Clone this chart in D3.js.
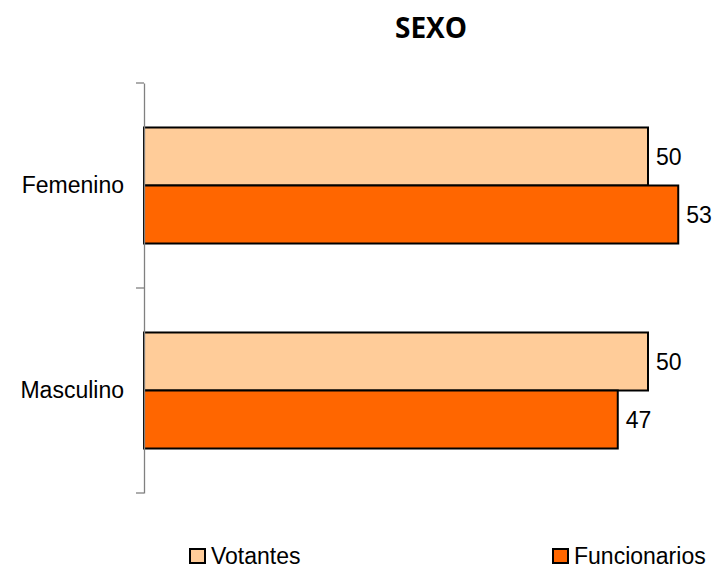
<!DOCTYPE html>
<html>
<head>
<meta charset="utf-8">
<script src="https://cdn.jsdelivr.net/npm/d3@7"></script>
<style>
  body { margin: 0; background: #fff; }
  text { font-family: Arial, "Liberation Sans", sans-serif; }
</style>
</head>
<body>
<svg id="chart"></svg>
<script>
const categories = ["Femenino", "Masculino"];
const seriesNames = ["Votantes", "Funcionarios"];
const votantes = [50, 50];
const funcionarios = [53, 47];

const width = 717;
const height = 573;
const margin = { top: 83, right: 19, bottom: 80, left: 144 };
const fontSize = "23px";

const svg = d3.select("#chart").attr("width", width).attr("height", height);

const data = categories.map((c, i) => ({
  category: c,
  values: [
    { key: "Votantes", value: votantes[i] },
    { key: "Funcionarios", value: funcionarios[i] },
  ],
}));

const yScale = d3
  .scaleBand()
  .domain(categories)
  .range([margin.top, height - margin.bottom])
  .paddingInner(0)
  .paddingOuter(0);

// each bar is 58px tall inside a 205px band
const ySub = d3
  .scaleBand()
  .domain(seriesNames)
  .range([0, yScale.bandwidth()])
  .paddingOuter(0.767)
  .paddingInner(0);

const xScale = d3.scaleLinear().domain([0, 55]).range([margin.left, margin.left + 554.4]);

const color = d3.scaleOrdinal().domain(seriesNames).range(["#FFCC99", "#FF6600"]);

// bars
const groups = svg
  .selectAll(".bar-group")
  .data(data)
  .enter()
  .append("g")
  .attr("class", "bar-group")
  .attr("transform", (d) => `translate(0,${yScale(d.category)})`);

groups
  .selectAll("rect")
  .data((d) => d.values)
  .enter()
  .append("rect")
  .attr("x", xScale(0))
  .attr("y", (d) => ySub(d.key))
  .attr("width", (d) => xScale(d.value) - xScale(0))
  .attr("height", ySub.bandwidth())
  .attr("fill", (d) => color(d.key))
  .attr("stroke", "#000")
  .attr("stroke-width", 2);

groups
  .selectAll(".value-label")
  .data((d) => d.values)
  .enter()
  .append("text")
  .attr("class", "value-label")
  .attr("x", (d) => xScale(d.value) + 8)
  .attr("y", (d) => ySub(d.key) + ySub.bandwidth() / 2)
  .attr("dy", "0.36em")
  .style("font-size", fontSize)
  .text((d) => d.value);

// y axis
const yAxis = d3.axisLeft(yScale).tickSize(0).tickPadding(20);
const yg = svg
  .append("g")
  .attr("class", "y-axis")
  .attr("transform", `translate(${margin.left},0)`)
  .call(yAxis);
yg.select(".domain").attr("stroke", "#808080").attr("stroke-width", 1.3);
yg.selectAll("text")
  .style("font-size", fontSize)
  .style("font-family", "Arial, 'Liberation Sans', sans-serif")
  .attr("fill", "#000");

// tick marks at category boundaries
const boundaries = [margin.top].concat(categories.map((c) => yScale(c) + yScale.bandwidth()));
svg
  .selectAll(".tick-mark")
  .data(boundaries)
  .enter()
  .append("line")
  .attr("class", "tick-mark")
  .attr("x1", margin.left - 8)
  .attr("x2", margin.left)
  .attr("y1", (d) => d)
  .attr("y2", (d) => d)
  .attr("stroke", "#808080")
  .attr("stroke-width", 1.3);

// title
svg
  .append("text")
  .attr("x", 431)
  .attr("y", 38)
  .attr("text-anchor", "middle")
  .style("font-family", "'Open Sans', Lato, sans-serif")
  .style("font-size", "28px")
  .style("font-weight", "bold")
  .text("SEXO");

// legend
const legendX = [190, 553];
const legend = svg
  .selectAll(".legend")
  .data(seriesNames)
  .enter()
  .append("g")
  .attr("class", "legend")
  .attr("transform", (d, i) => `translate(${legendX[i]},549)`);

legend
  .append("rect")
  .attr("width", 15)
  .attr("height", 14)
  .attr("fill", color)
  .attr("stroke", "#000")
  .attr("stroke-width", 2);

legend
  .append("text")
  .attr("x", 21)
  .attr("y", 7)
  .attr("dy", "0.36em")
  .style("font-size", fontSize)
  .text((d) => d);
</script>
</body>
</html>
